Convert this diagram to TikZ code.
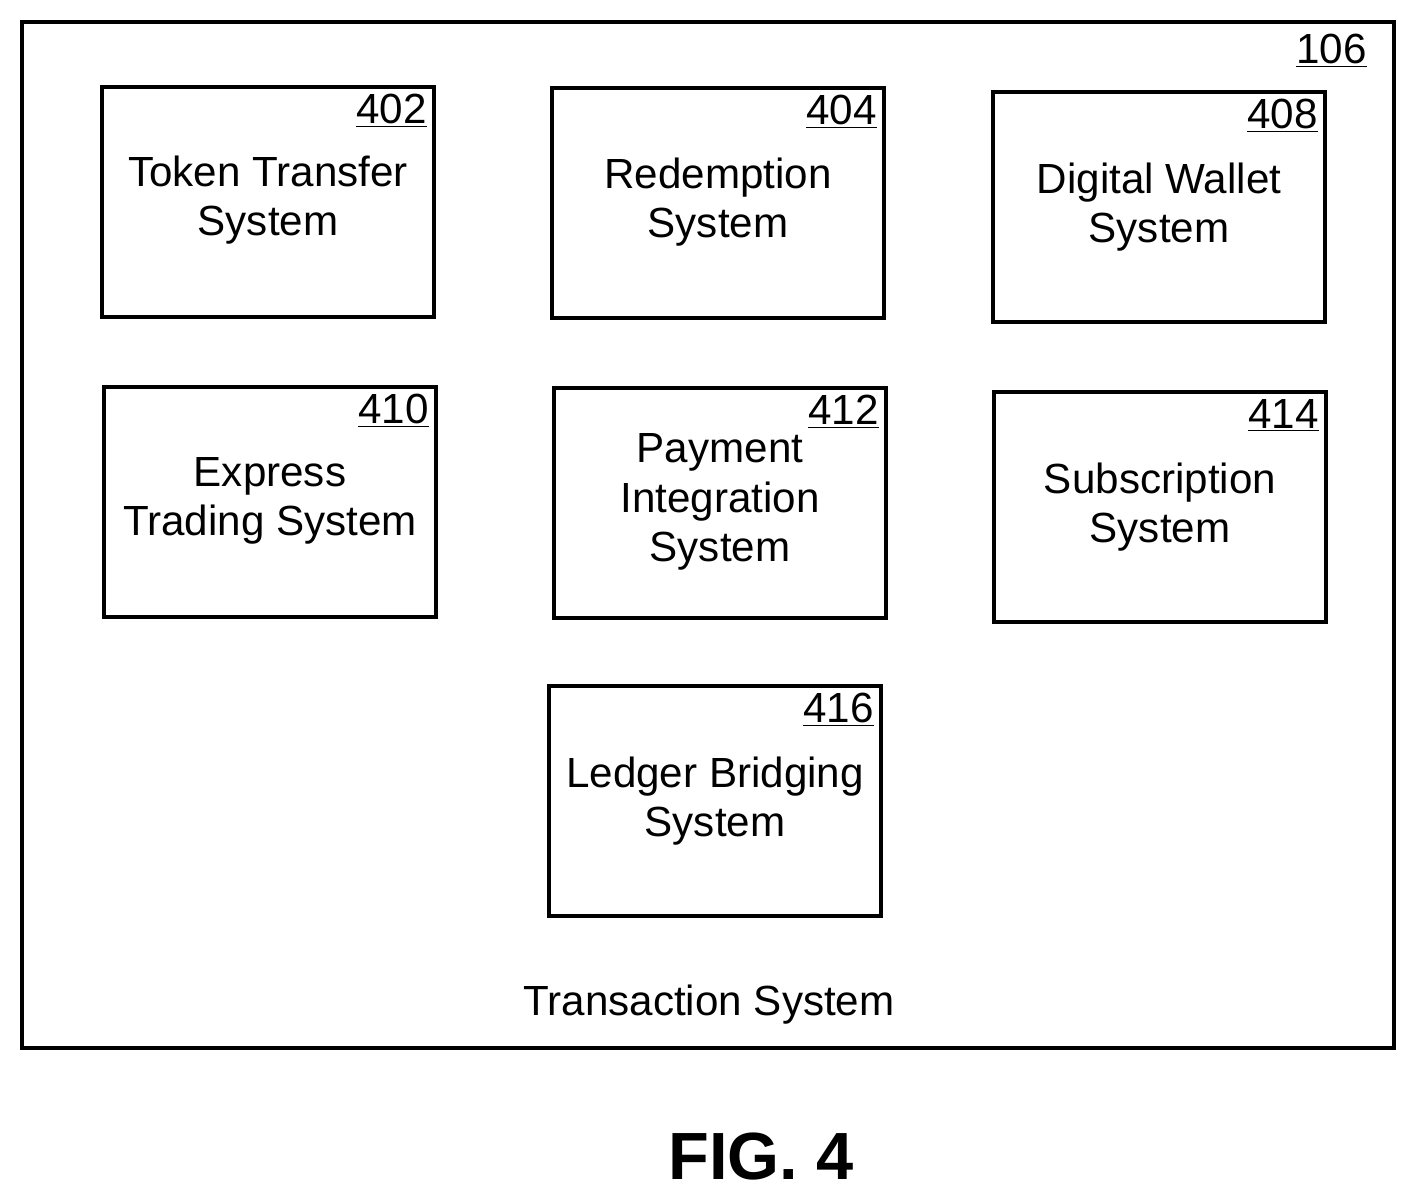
\documentclass[tikz,border=0pt]{standalone}
\usepackage{fontspec}
\setmainfont{Liberation Sans}
\usetikzlibrary{positioning}
\begin{document}
\begin{tikzpicture}[
    x=0.02cm, y=-0.02cm,
    module/.style={rectangle, draw=black, line width=2.2pt, minimum width=6.64cm, minimum height=4.6cm, inner sep=0pt},
    modtext/.style={align=center, font=\fontsize{24}{28}\selectfont},
    refnum/.style={anchor=north east, inner sep=5pt, font=\fontsize{24}{28}\selectfont},
]
\useasboundingbox (0,0) rectangle (1417,1200);

% Outer frame
\node[rectangle, draw=black, line width=2.2pt, minimum width=27.44cm, minimum height=20.52cm, inner sep=0pt] (frame) at (708,535) {};
\node[refnum] at (frame.north east) [xshift=-0.4cm, yshift=-0.1cm] {\underline{106}};

% Modules
\node[module] (transfer) at (268,202) {};
\node[module] (redeem) at (718,203) {};
\node[module] (wallet) at (1159,207) {};
\node[module] (express) at (270,502) {};
\node[module] (payment) at (720,503) {};
\node[module] (subscr) at (1160,507) {};
\node[module] (bridge) at (715,801) {};

% Reference numbers
\node[refnum] at (transfer.north east) {\underline{402}};
\node[refnum] at (redeem.north east) {\underline{404}};
\node[refnum] at (wallet.north east) {\underline{408}};
\node[refnum] at (express.north east) {\underline{410}};
\node[refnum] at (payment.north east) {\underline{412}};
\node[refnum] at (subscr.north east) {\underline{414}};
\node[refnum] at (bridge.north east) {\underline{416}};

% Labels
\node[modtext] (transferText) at (268,200) {Token Transfer\\System};
\node[modtext] (redeemText) at (718,202) {Redemption\\System};
\node[modtext] (walletText) at (1159,207) {Digital Wallet\\System};
\node[modtext] (expressText) at (270,501) {Express\\Trading System};
\node[modtext] (paymentText) at (720,502) {Payment\\Integration\\System};
\node[modtext] (subscrText) at (1160,507) {Subscription\\System};
\node[modtext] (bridgeText) at (715,801) {Ledger Bridging\\System};

\node[modtext] (frameText) at (709,1005) {Transaction System};
\node[font=\fontsize{38}{46}\selectfont\bfseries] (fig) at (761,1157) {FIG. 4};
\end{tikzpicture}
\end{document}
